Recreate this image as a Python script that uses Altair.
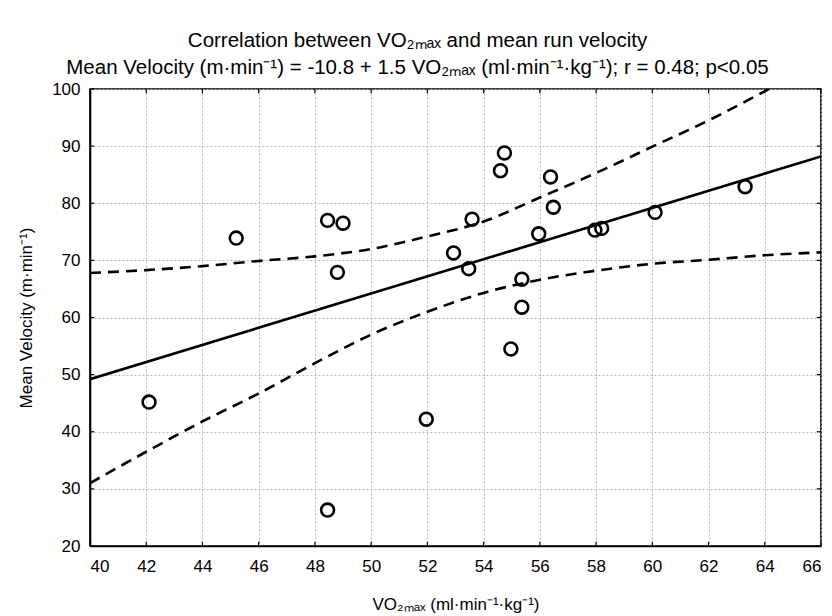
import altair as alt
import pandas as pd

# ---- data ----
vo2 = [42.1, 45.2, 48.45, 49.0, 48.8, 48.45, 54.74, 54.6, 56.38, 56.48, 53.59,
       55.96, 52.93, 53.47, 55.36, 55.36, 57.96, 58.2, 60.1, 51.96, 54.97, 63.3]
vel = [45.2, 73.9, 77.0, 76.5, 67.9, 26.3, 88.8, 85.7, 84.6, 79.3, 77.2,
       74.65, 71.3, 68.55, 66.7, 61.8, 75.3, 75.6, 78.4, 42.2, 54.5, 82.9]

fit_x = [40, 66]
fit_y = [49.2, 88.2]

band_x = [40, 42, 44, 46, 48, 50, 52, 54, 56, 58, 60, 62, 64, 66]
upper_y = [67.8, 68.3, 69.0, 69.9, 70.7, 72.0, 74.2, 76.8, 81.0, 85.3, 89.9, 94.5, 99.6, 105.0]
lower_y = [31.0, 36.5, 41.8, 46.7, 52.0, 57.0, 61.0, 64.3, 66.6, 68.2, 69.4, 70.1, 70.9, 71.4]

x_ticks = [40, 42, 44, 46, 48, 50, 52, 54, 56, 58, 60, 62, 64, 66]
y_ticks = [20, 30, 40, 50, 60, 70, 80, 90, 100]

title_1 = "Correlation between VO\u2082\u2098\u2090\u2093 and mean run velocity"
title_2 = ("Mean Velocity (m\u00b7min\u207b\u00b9) = -10.8 + 1.5 VO\u2082\u2098\u2090\u2093 "
           "(ml\u00b7min\u207b\u00b9\u00b7kg\u207b\u00b9); r = 0.48; p<0.05")
x_title = "VO\u2082\u2098\u2090\u2093 (ml\u00b7min\u207b\u00b9\u00b7kg\u207b\u00b9)"
y_title = "Mean Velocity (m\u00b7min\u207b\u00b9)"

FONT = "Liberation Sans"

# ---- tables ----
pts = pd.DataFrame({"x": vo2, "y": vel})
fit = pd.DataFrame({"x": fit_x, "y": fit_y})
bands = pd.concat([
    pd.DataFrame({"x": band_x, "y": upper_y, "band": "upper"}),
    pd.DataFrame({"x": band_x, "y": lower_y, "band": "lower"}),
])

xlen = 0.15   # inward tick length in x data units
ylen = 0.75   # inward tick length in y data units
xt = pd.DataFrame({"x": x_ticks * 2,
                   "y": [20] * len(x_ticks) + [100 - ylen] * len(x_ticks),
                   "y2": [20 + ylen] * len(x_ticks) + [100] * len(x_ticks)})
yt = pd.DataFrame({"y": y_ticks * 2,
                   "x": [40] * len(y_ticks) + [66 - xlen] * len(y_ticks),
                   "x2": [40 + xlen] * len(y_ticks) + [66] * len(y_ticks)})

xscale = alt.Scale(domain=[40, 66], nice=False, zero=False)
yscale = alt.Scale(domain=[20, 100], nice=False, zero=False)

xaxis = alt.Axis(values=x_ticks, title=x_title, titlePadding=22, labelPadding=12,
                 ticks=False, grid=True)
yaxis = alt.Axis(values=y_ticks, title=y_title, titlePadding=16, labelPadding=10,
                 ticks=False, grid=True)

base_pts = alt.Chart(pts).mark_point(shape="circle", filled=False, size=165,
                                     strokeWidth=2.6, color="black", opacity=1).encode(
    x=alt.X("x:Q", scale=xscale, axis=xaxis),
    y=alt.Y("y:Q", scale=yscale, axis=yaxis),
)

fit_line = alt.Chart(fit).mark_line(color="black", strokeWidth=2.6, clip=True).encode(
    x=alt.X("x:Q", scale=xscale), y=alt.Y("y:Q", scale=yscale))

band_lines = alt.Chart(bands).mark_line(color="black", strokeWidth=2.6,
                                        strokeDash=[11, 7], clip=True,
                                        interpolate="monotone").encode(
    x=alt.X("x:Q", scale=xscale), y=alt.Y("y:Q", scale=yscale), detail="band:N")

xticks_m = alt.Chart(xt).mark_rule(color="black", strokeWidth=1.2).encode(
    x=alt.X("x:Q", scale=xscale), y=alt.Y("y:Q", scale=yscale), y2="y2:Q")
yticks_m = alt.Chart(yt).mark_rule(color="black", strokeWidth=1.2).encode(
    y=alt.Y("y:Q", scale=yscale), x=alt.X("x:Q", scale=xscale), x2="x2:Q")

chart = alt.layer(band_lines, fit_line, xticks_m, yticks_m, base_pts).properties(
    width=731, height=457,
    background="white",
    autosize=alt.AutoSizeParams(type="none"),
    padding={"left": 82, "top": 81, "right": 3, "bottom": 70},
    title=alt.TitleParams(text=[title_1, title_2], font=FONT, fontSize=20.5,
                          fontWeight="normal", color="black", anchor="middle",
                          lineHeight=27, offset=2, dx=-38),
).configure_view(stroke="black", strokeWidth=1.6).configure_axis(
    labelFont=FONT, labelFontSize=17, labelColor="black",
    titleFont=FONT, titleFontSize=17, titleFontWeight="normal", titleColor="black",
    domainColor="black", domainWidth=1.6,
    gridColor="#b8b8b8", gridDash=[2, 2], gridWidth=1,
)

chart.save("out.html", embed_options={"renderer": "svg", "actions": False})
